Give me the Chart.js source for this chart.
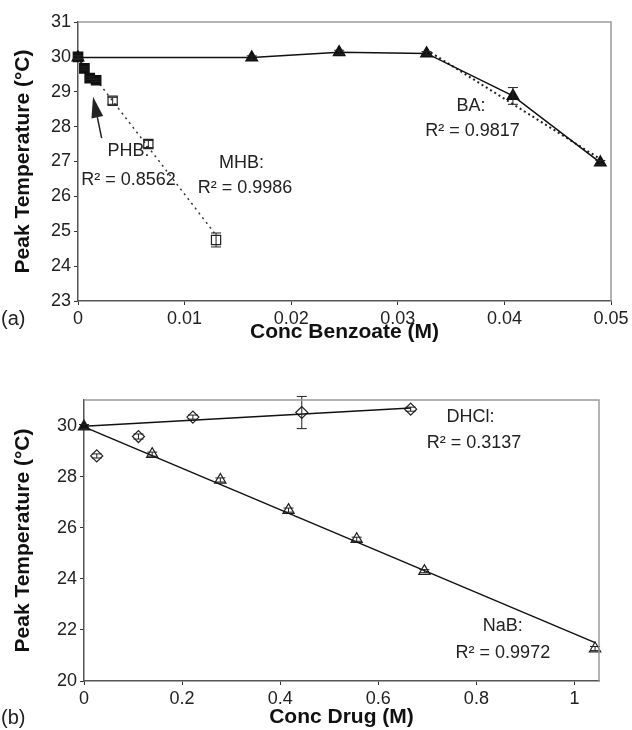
<!DOCTYPE html>
<html>
<head>
<meta charset="utf-8">
<script src="https://cdn.jsdelivr.net/npm/chart.js@4.4.0/dist/chart.umd.min.js"></script>
<style>
    html, body { margin: 0; padding: 0; background: #fff; }
    body { width: 632px; height: 730px; position: relative; overflow: hidden; }
    #wrapA { position: absolute; left: 0; top: 0; width: 632px; height: 345px; }
    #wrapB { position: absolute; left: 0; top: 380px; width: 632px; height: 350px; }
</style>
</head>
<body>
<div id="wrapA"><canvas id="chartA" width="632" height="345"></canvas></div>
<div id="wrapB"><canvas id="chartB" width="632" height="350"></canvas></div>
<script>
/* ================= DATA: PANEL (a) ================= */

const baConc = [0, 0.0163, 0.0245, 0.0327, 0.0408, 0.049];
const baTemp = [29.98, 29.98, 30.13, 30.10, 28.88, 26.97];
const baErr = [0.05, 0.05, 0.06, 0.05, 0.24, 0.06];
const baFitConc = [0.0327, 0.049];
const baFitTemp = [30.20, 27.07];

const phbConc = [0, 0.0006, 0.0011, 0.0017];
const phbTemp = [30.00, 29.67, 29.39, 29.33];
const phbErr = [0.04, 0.04, 0.04, 0.04];

const mhbConc = [0.00325, 0.0066, 0.01295];
const mhbTemp = [28.74, 27.50, 24.75];
const mhbErr = [0.10, 0.10, 0.20];
const mhbFitConc = [0.0017, 0.0128];
const mhbFitTemp = [29.35, 24.95];

const xTicksA = [0, 0.01, 0.02, 0.03, 0.04, 0.05];
const yTicksA = [23, 24, 25, 26, 27, 28, 29, 30, 31];

/* ================= DATA: PANEL (b) ================= */

const nabConc = [0, 0.139, 0.278, 0.417, 0.556, 0.694, 1.042];
const nabTemp = [29.96, 28.88, 27.87, 26.69, 25.55, 24.30, 21.27];
const nabErr = [0.08, 0.08, 0.08, 0.08, 0.08, 0.06, 0.08];
const nabFitConc = [0, 1.042];
const nabFitTemp = [29.95, 21.50];

const dhclConc = [0.026, 0.111, 0.222, 0.444, 0.666];
const dhclTemp = [28.81, 29.57, 30.33, 30.51, 30.64];
const dhclErr = [0.08, 0.10, 0.08, 0.63, 0.08];
const dhclFitConc = [0, 0.666];
const dhclFitTemp = [29.97, 30.69];

const xTicksB = [0, 0.2, 0.4, 0.6, 0.8, 1];
const yTicksB = [20, 22, 24, 26, 28, 30];

/* ================= TEXT NOTES (data coords) ================= */

const notesA = [
    { text: "PHB:", x: 0.00474, y: 27.31 },
    { text: "R\u00B2 = 0.8562", x: 0.00474, y: 26.47 },
    { text: "MHB:", x: 0.01534, y: 26.97 },
    { text: "R\u00B2 = 0.9986", x: 0.01567, y: 26.24 },
    { text: "BA:", x: 0.03687, y: 28.60 },
    { text: "R\u00B2 = 0.9817", x: 0.03701, y: 27.86 }
];
const arrowA = { from: [0.00222, 27.67], to: [0.00141, 28.86] };

const notesB = [
    { text: "DHCl:", x: 0.788, y: 30.33 },
    { text: "R\u00B2 = 0.3137", x: 0.795, y: 29.31 },
    { text: "NaB:", x: 0.854, y: 22.16 },
    { text: "R\u00B2 = 0.9972", x: 0.854, y: 21.11 }
];

/* ================= HELPERS ================= */

const FONT = "'Liberation Sans', Arial, sans-serif";

function pts(xs, ys) {
    return xs.map((x, i) => ({ x: x, y: ys[i] }));
}

function numLabel(v) {
    return String(+Number(v).toFixed(4));
}

/* error bars, frame, notes, arrow, panel letter */
const extras = {
    id: "extras",
    afterDatasetsDraw(chart, args, opts) {
        const ctx = chart.ctx;
        const xs = chart.scales.x;
        const ys = chart.scales.y;
        const area = chart.chartArea;

        ctx.save();

        // error bars
        ctx.strokeStyle = "#222";
        ctx.lineWidth = 1;
        chart.data.datasets.forEach((ds, i) => {
            if (!ds.errors) return;
            const meta = chart.getDatasetMeta(i);
            meta.data.forEach((el, j) => {
                const v = ds.data[j].y;
                const e = ds.errors[j];
                const top = ys.getPixelForValue(v + e);
                const bot = ys.getPixelForValue(v - e);
                ctx.beginPath();
                ctx.moveTo(el.x, top); ctx.lineTo(el.x, bot);
                ctx.moveTo(el.x - 5, top); ctx.lineTo(el.x + 5, top);
                ctx.moveTo(el.x - 5, bot); ctx.lineTo(el.x + 5, bot);
                ctx.stroke();
            });
        });

        // light frame on top and right
        ctx.strokeStyle = "#9a9a9a";
        ctx.lineWidth = 1.5;
        ctx.beginPath();
        ctx.moveTo(area.left, area.top);
        ctx.lineTo(area.right, area.top);
        ctx.lineTo(area.right, area.bottom);
        ctx.stroke();

        // notes
        ctx.fillStyle = "#222";
        ctx.font = "18px " + FONT;
        ctx.textAlign = "center";
        ctx.textBaseline = "middle";
        (opts.notes || []).forEach(n => {
            ctx.fillText(n.text, xs.getPixelForValue(n.x), ys.getPixelForValue(n.y));
        });

        // arrow
        if (opts.arrow) {
            const x1 = xs.getPixelForValue(opts.arrow.from[0]);
            const y1 = ys.getPixelForValue(opts.arrow.from[1]);
            const x2 = xs.getPixelForValue(opts.arrow.to[0]);
            const y2 = ys.getPixelForValue(opts.arrow.to[1]);
            const ang = Math.atan2(y2 - y1, x2 - x1);
            const headLen = 21, headW = 6;
            const bx = x2 - headLen * Math.cos(ang);
            const by = y2 - headLen * Math.sin(ang);
            ctx.strokeStyle = "#222";
            ctx.lineWidth = 1.5;
            ctx.beginPath();
            ctx.moveTo(x1, y1); ctx.lineTo(bx, by);
            ctx.stroke();
            ctx.beginPath();
            ctx.moveTo(x2, y2);
            ctx.lineTo(bx + headW * Math.sin(ang), by - headW * Math.cos(ang));
            ctx.lineTo(bx - headW * Math.sin(ang), by + headW * Math.cos(ang));
            ctx.closePath();
            ctx.fill();
        }

        // panel letter
        if (opts.letter) {
            ctx.font = "20px " + FONT;
            ctx.textAlign = "left";
            ctx.fillText(opts.letter.text, opts.letter.x, opts.letter.y);
        }

        ctx.restore();
    }
};

function axisCommon(titleText, titleOpts) {
    return {
        type: "linear",
        grid: {
            display: true,
            drawOnChartArea: false,
            drawTicks: true,
            tickLength: 4,
            color: "#333",
            lineWidth: 1
        },
        border: { display: true, color: "#555", width: 1.5 },
        ticks: {
            color: "#222",
            padding: 3,
            font: { family: FONT, size: 18 },
            callback: numLabel
        },
        title: Object.assign({
            display: true,
            text: titleText,
            color: "#111",
            font: { family: FONT, size: 21, weight: "bold" }
        }, titleOpts)
    };
}

/* ================= PANEL (a) ================= */

const xA = axisCommon("Conc Benzoate (M)", { padding: { top: 0, bottom: 0 } });
xA.min = 0; xA.max = 0.05;
xA.afterBuildTicks = s => { s.ticks = xTicksA.map(v => ({ value: v })); };
xA.afterFit = s => { s.height = 44; };
xA.ticks.maxRotation = 0;

const yA = axisCommon("Peak Temperature (\u00B0C)", { padding: { top: 11, bottom: 0 } });
yA.min = 23; yA.max = 31;
yA.afterBuildTicks = s => { s.ticks = yTicksA.map(v => ({ value: v })); };
yA.afterFit = s => { s.width = 78; };

new Chart(document.getElementById("chartA"), {
    type: "scatter",
    data: {
        datasets: [
            {
                label: "BA",
                data: pts(baConc, baTemp),
                errors: baErr,
                showLine: true,
                borderColor: "#111",
                borderWidth: 1.5,
                pointStyle: "triangle",
                pointRadius: 6.5,
                pointBackgroundColor: "#111",
                pointBorderColor: "#111"
            },
            {
                label: "BA fit",
                data: pts(baFitConc, baFitTemp),
                showLine: true,
                borderColor: "#222",
                borderWidth: 2,
                borderDash: [2, 3],
                pointRadius: 0
            },
            {
                label: "PHB",
                data: pts(phbConc, phbTemp),
                errors: phbErr,
                showLine: true,
                borderColor: "#111",
                borderWidth: 1.5,
                pointStyle: "rect",
                pointRadius: 6.5,
                pointBackgroundColor: "#111",
                pointBorderColor: "#111"
            },
            {
                label: "MHB fit",
                data: pts(mhbFitConc, mhbFitTemp),
                showLine: true,
                borderColor: "#333",
                borderWidth: 1.5,
                borderDash: [2, 4],
                pointRadius: 0
            },
            {
                label: "MHB",
                data: pts(mhbConc, mhbTemp),
                errors: mhbErr,
                showLine: false,
                pointStyle: "rect",
                pointRadius: 6.5,
                pointBackgroundColor: "#fff",
                pointBorderColor: "#222",
                pointBorderWidth: 1.2
            }
        ]
    },
    options: {
        responsive: false,
        animation: false,
        clip: false,
        layout: { padding: { left: 0, top: 22, right: 21, bottom: 0 } },
        scales: { x: xA, y: yA },
        plugins: {
            legend: { display: false },
            tooltip: { enabled: false },
            extras: {
                notes: notesA,
                arrow: arrowA,
                letter: { text: "(a)", x: 1, y: 319 }
            }
        }
    },
    plugins: [extras]
});

/* ================= PANEL (b) ================= */

const xB = axisCommon("Conc Drug (M)", { padding: { top: 0, bottom: 0 } });
xB.min = 0; xB.max = 1.05;
xB.afterBuildTicks = s => { s.ticks = xTicksB.map(v => ({ value: v })); };
xB.afterFit = s => { s.height = 49; };
xB.ticks.maxRotation = 0;

const yB = axisCommon("Peak Temperature (\u00B0C)", { padding: { top: 11, bottom: 0 } });
yB.min = 20; yB.max = 31;
yB.afterBuildTicks = s => { s.ticks = yTicksB.map(v => ({ value: v })); };
yB.afterFit = s => { s.width = 84; };

new Chart(document.getElementById("chartB"), {
    type: "scatter",
    data: {
        datasets: [
            {
                label: "NaB fit",
                data: pts(nabFitConc, nabFitTemp),
                showLine: true,
                borderColor: "#111",
                borderWidth: 1.5,
                pointRadius: 0
            },
            {
                label: "DHCl fit",
                data: pts(dhclFitConc, dhclFitTemp),
                showLine: true,
                borderColor: "#111",
                borderWidth: 1.5,
                pointRadius: 0
            },
            {
                label: "NaB",
                data: pts(nabConc, nabTemp),
                errors: nabErr,
                showLine: false,
                pointStyle: "triangle",
                pointRadius: 6.5,
                pointBackgroundColor: nabConc.map((c, i) => i === 0 ? "#111" : "#fff"),
                pointBorderColor: "#222",
                pointBorderWidth: 1.2
            },
            {
                label: "DHCl",
                data: pts(dhclConc, dhclTemp),
                errors: dhclErr,
                showLine: false,
                pointStyle: "rectRot",
                pointRadius: 6,
                pointBackgroundColor: "#fff",
                pointBorderColor: "#222",
                pointBorderWidth: 1.2
            }
        ]
    },
    options: {
        responsive: false,
        animation: false,
        clip: false,
        layout: { padding: { left: 0, top: 20, right: 33, bottom: 0 } },
        scales: { x: xB, y: yB },
        plugins: {
            legend: { display: false },
            tooltip: { enabled: false },
            extras: {
                notes: notesB,
                letter: { text: "(b)", x: 1, y: 338 }
            }
        }
    },
    plugins: [extras]
});
</script>
</body>
</html>
